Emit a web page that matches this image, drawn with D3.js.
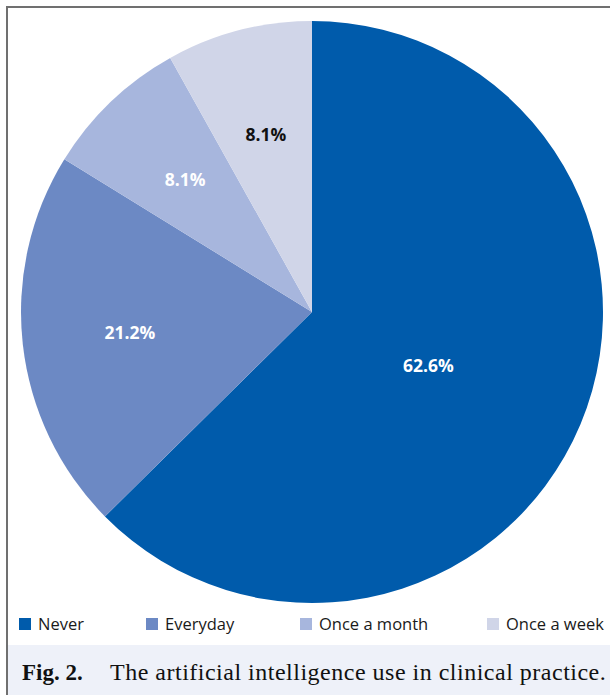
<!DOCTYPE html>
<html>
<head>
<meta charset="utf-8">
<script src="https://cdn.jsdelivr.net/npm/d3@7"></script>
<style>
  html, body { margin: 0; padding: 0; background: #fff; }
  svg { display: block; }
</style>
</head>
<body>
<svg id="chart" width="610" height="695"></svg>
<script>
const categories = ["Never", "Everyday", "Once a month", "Once a week"];
const values = [62.6, 21.2, 8.1, 8.1];
const labels = ["62.6%", "21.2%", "8.1%", "8.1%"];
const colors = ["#005bab", "#6c89c4", "#a7b6dd", "#d0d5e8"];
const labelColors = ["#ffffff", "#ffffff", "#ffffff", "#111111"];
const caption = ["Fig. 2.", "The artificial intelligence use in clinical practice."];

const W = 610, H = 695;
const svg = d3.select("#chart");

// caption background
svg.append("rect").attr("x", 8).attr("y", 645).attr("width", W - 8).attr("height", H - 645).attr("fill", "#eef1f9");

// frame
svg.append("path")
  .attr("d", `M7,${H} L7,7 L${W},7`)
  .attr("fill", "none").attr("stroke", "#707070").attr("stroke-width", 2);

const cx = 312, cy = 312, r = 291;
const data = categories.map((c, i) => ({ cat: c, value: values[i], label: labels[i], i }));

const pie = d3.pie().sort(null).value(d => d.value);
const arc = d3.arc().innerRadius(0).outerRadius(r);
const arcs = pie(data);

const g = svg.append("g").attr("transform", `translate(${cx},${cy})`);
g.selectAll("path.slice").data(arcs).join("path")
  .attr("class", "slice")
  .attr("d", arc)
  .attr("fill", d => colors[d.data.i]);

g.selectAll("text.lbl").data(arcs).join("text")
  .attr("class", "lbl")
  .attr("transform", d => {
    const big = d.data.value > 50;
    const lr = r * (big ? 0.44 : 0.63);
    const a = (d.startAngle + d.endAngle) / 2 + (big ? 0.035 : 0);
    return `translate(${lr * Math.sin(a)},${-lr * Math.cos(a)})`;
  })
  .attr("text-anchor", "middle")
  .attr("dy", "0.36em")
  .attr("font-family", "'Open Sans', sans-serif")
  .attr("font-weight", "bold")
  .attr("font-size", 17.5)
  .attr("fill", d => labelColors[d.data.i])
  .text(d => d.data.label);

// legend
const legendOffsets = [19, 146, 300, 487];
const leg = svg.append("g");
const items = leg.selectAll("g").data(categories).join("g")
  .attr("transform", (d, i) => `translate(${legendOffsets[i]},618)`);
items.append("rect").attr("width", 12).attr("height", 12).attr("fill", (d, i) => colors[i]);
items.append("text")
  .attr("x", 19).attr("y", 12)
  .attr("font-family", "'Open Sans', sans-serif")
  .attr("font-size", 16.5)
  .attr("fill", "#1a1a1a")
  .text(d => d);

// caption
const cap = svg.append("text").attr("x", 22).attr("y", 680)
  .attr("font-family", "'Liberation Serif', 'DejaVu Serif', serif")
  .attr("font-size", 23).attr("fill", "#111");
cap.append("tspan").attr("font-weight", "bold").text(caption[0]);
cap.append("tspan").attr("x", 110).attr("font-size", 24).attr("letter-spacing", 0.5).text(caption[1]);
</script>
</body>
</html>
